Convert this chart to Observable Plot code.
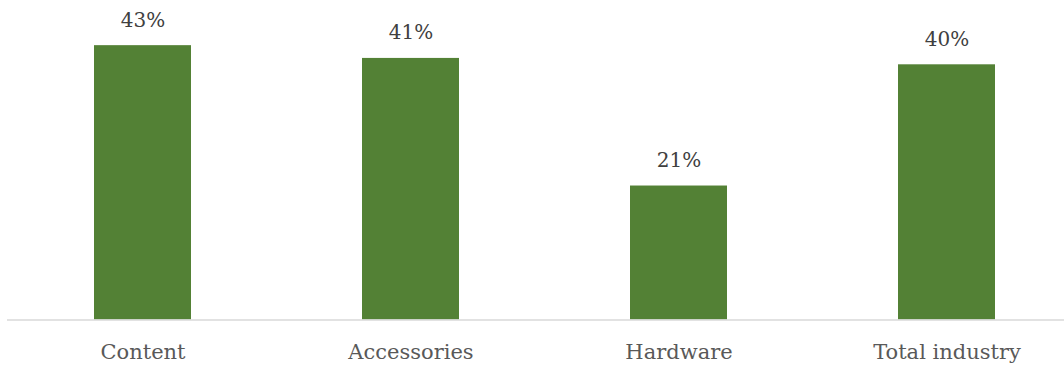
<!DOCTYPE html>
<html>
<head>
<meta charset="utf-8">
<script src="https://cdn.jsdelivr.net/npm/d3@7"></script>
<script src="https://cdn.jsdelivr.net/npm/@observablehq/plot@0.6"></script>
<style>
  html, body { margin: 0; padding: 0; background: #ffffff; overflow: hidden; }
  #chart svg { display: block; }
</style>
</head>
<body>
<div id="chart"></div>
<script>
const categories = ["Content", "Accessories", "Hardware", "Total industry"];
const values = [43, 41, 21, 40];
const valueLabels = ["43%", "41%", "21%", "40%"];

const data = categories.map((c, i) => ({category: c, value: values[i], label: valueLabels[i]}));

const serif = "DejaVu Serif";

const chart = Plot.plot({
  width: 1064,
  height: 365,
  marginLeft: 7,
  marginRight: 0,
  marginTop: 0,
  marginBottom: 45,
  style: {background: "#ffffff", fontFamily: serif},
  x: {domain: categories, range: [7.3, 1081], paddingInner: 0.639, paddingOuter: 0.3195, align: 0.5, label: null},
  y: {domain: [0, 50], range: [319.5, 0.5], axis: null},
  marks: [
    Plot.barY(data, {x: "category", y: "value", fill: "#538135"}),
    Plot.ruleY([0], {stroke: "#d9d9d9", strokeWidth: 1.5}),
    Plot.text(data, {x: "category", y: "value", text: "label", dy: -19, lineAnchor: "bottom", fontSize: 20, fontFamily: serif, fill: "#404040"}),
    Plot.axisX({tickSize: 0, tickPadding: 24, fontSize: 21, fontFamily: serif, color: "#595959", label: null})
  ]
});
document.getElementById("chart").appendChild(chart);
</script>
</body>
</html>
